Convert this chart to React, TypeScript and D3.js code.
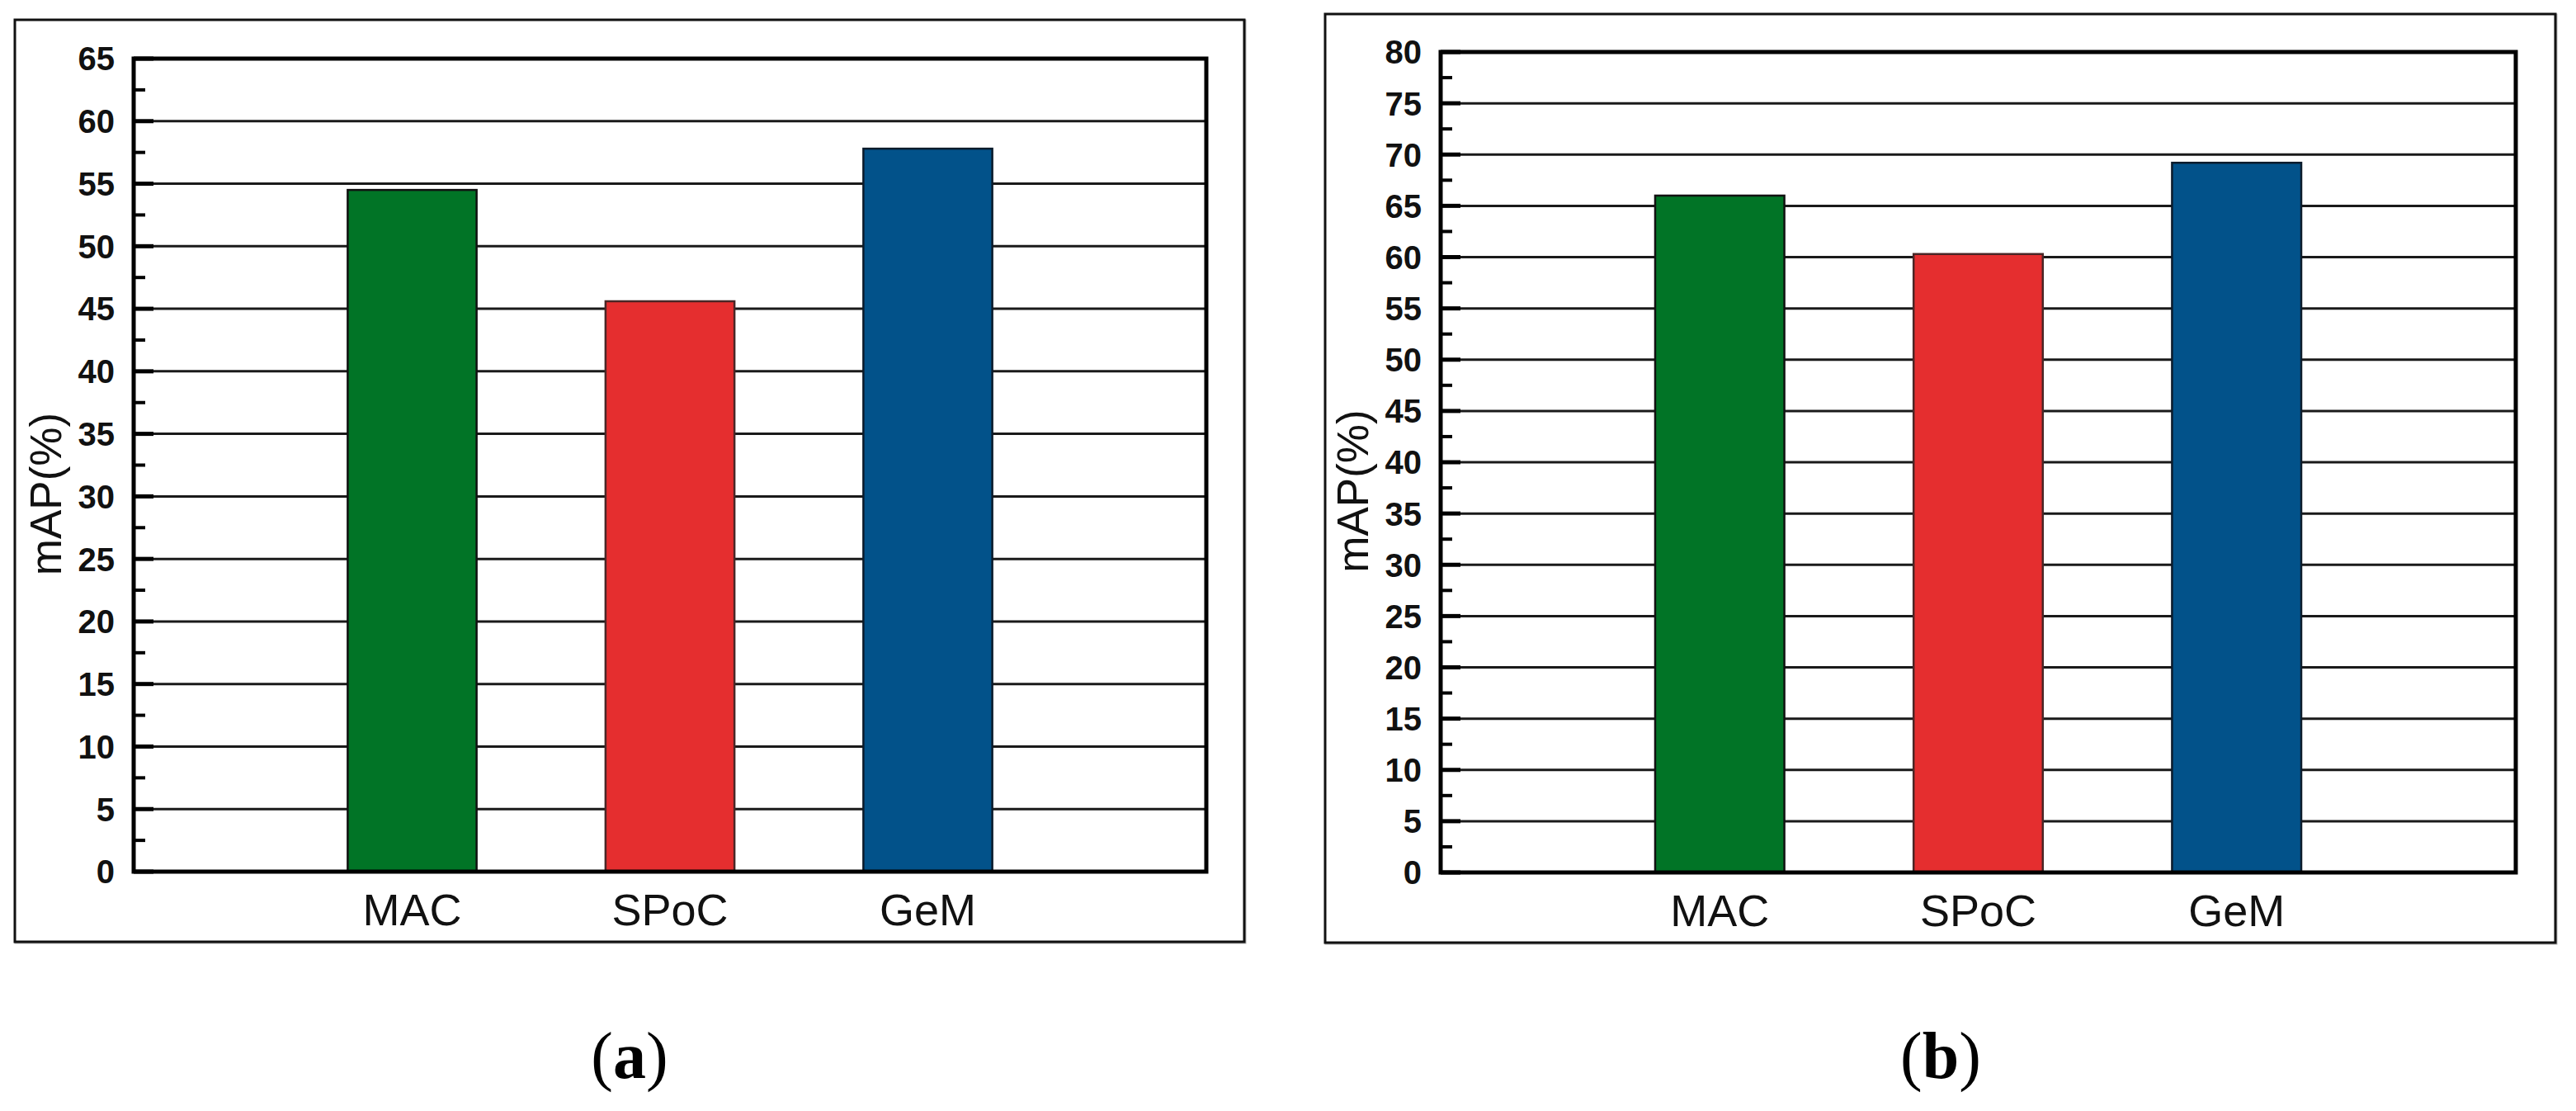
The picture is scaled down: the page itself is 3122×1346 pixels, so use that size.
import React, { useEffect, useRef } from 'react';
import * as d3 from 'd3';

// categories and values
const categories = ['MAC', 'SPoC', 'GeM'];
const barColors = ['#017426', '#e52e2f', '#02528a'];
const barStrokes = ['#111111', '#4a2626', '#0b1b2b'];
const valuesA = [54.5, 45.6, 57.8];
const valuesB = [66.0, 60.3, 69.2];
const ticksA = [0, 5, 10, 15, 20, 25, 30, 35, 40, 45, 50, 55, 60, 65];
const ticksB = [0, 5, 10, 15, 20, 25, 30, 35, 40, 45, 50, 55, 60, 65, 70, 75, 80];
const yLabel = 'mAP(%)';

const WIDTH = 3122;
const HEIGHT = 1346;

interface PanelOpts {
  values: number[];
  ticks: number[];
  caption: string;
  frame: { x0: number; y0: number; x1: number; y1: number };
  plot: { x0: number; y0: number; x1: number; y1: number };
  captionX: number;
}

function drawPanel(svg: d3.Selection<SVGSVGElement, unknown, null, undefined>, o: PanelOpts) {
  const g = svg.append('g');
  const { plot, frame } = o;
  const yMax = o.ticks[o.ticks.length - 1];

  const x = d3.scaleBand()
    .domain(categories)
    .range([plot.x0, plot.x1])
    .paddingInner(0.5)
    .paddingOuter(0.83);

  const y = d3.scaleLinear()
    .domain([0, yMax])
    .range([plot.y1, plot.y0]);

  // outer frame with a faint shadow
  g.append('rect')
    .attr('x', frame.x0 + 1).attr('y', frame.y0 + 1)
    .attr('width', frame.x1 - frame.x0).attr('height', frame.y1 - frame.y0)
    .attr('fill', 'none').attr('stroke', '#b0b0b0').attr('stroke-width', 3);
  g.append('rect')
    .attr('x', frame.x0).attr('y', frame.y0)
    .attr('width', frame.x1 - frame.x0).attr('height', frame.y1 - frame.y0)
    .attr('fill', '#fff').attr('stroke', '#111').attr('stroke-width', 3);

  // grid lines
  g.append('g')
    .selectAll('line')
    .data(o.ticks.filter(t => t > 0 && t < yMax))
    .enter().append('line')
    .attr('x1', plot.x0).attr('x2', plot.x1)
    .attr('y1', d => y(d)).attr('y2', d => y(d))
    .attr('stroke', '#1a1a1a').attr('stroke-width', 3);

  // bars
  g.append('g')
    .selectAll('rect')
    .data(o.values)
    .enter().append('rect')
    .attr('x', (d, i) => x(categories[i]) || 0)
    .attr('y', d => y(d))
    .attr('width', x.bandwidth())
    .attr('height', d => y(0) - y(d))
    .attr('fill', (d, i) => barColors[i])
    .attr('stroke', (d, i) => barStrokes[i])
    .attr('stroke-width', 2.5);

  // plot box
  g.append('rect')
    .attr('x', plot.x0).attr('y', plot.y0)
    .attr('width', plot.x1 - plot.x0).attr('height', plot.y1 - plot.y0)
    .attr('fill', 'none').attr('stroke', '#000').attr('stroke-width', 5);

  // inward ticks, major and minor
  const minor = o.ticks.slice(0, -1).map(t => t + 2.5);
  g.append('g')
    .selectAll('line')
    .data(o.ticks)
    .enter().append('line')
    .attr('x1', plot.x0).attr('x2', plot.x0 + 24)
    .attr('y1', d => y(d)).attr('y2', d => y(d))
    .attr('stroke', '#000').attr('stroke-width', 5);
  g.append('g')
    .selectAll('line')
    .data(minor)
    .enter().append('line')
    .attr('x1', plot.x0).attr('x2', plot.x0 + 14)
    .attr('y1', d => y(d)).attr('y2', d => y(d))
    .attr('stroke', '#000').attr('stroke-width', 4);

  // tick labels
  g.append('g')
    .selectAll('text')
    .data(o.ticks)
    .enter().append('text')
    .attr('x', plot.x0 - 23)
    .attr('y', d => y(d))
    .attr('dy', '0.36em')
    .attr('text-anchor', 'end')
    .style('font-family', '"Liberation Sans", Arial, sans-serif')
    .style('font-weight', 'bold')
    .style('font-size', '40px')
    .style('fill', '#111')
    .text(d => String(d));

  // category labels
  g.append('g')
    .selectAll('text')
    .data(categories)
    .enter().append('text')
    .attr('x', d => (x(d) || 0) + x.bandwidth() / 2)
    .attr('y', plot.y1 + 65)
    .attr('text-anchor', 'middle')
    .style('font-family', '"Liberation Sans", Arial, sans-serif')
    .style('font-size', '54px')
    .style('fill', '#111')
    .text(d => d);

  // y axis title
  g.append('text')
    .attr('transform', `translate(${plot.x0 - 88}, ${(plot.y0 + plot.y1) / 2 + 35}) rotate(-90)`)
    .attr('text-anchor', 'middle')
    .style('font-family', '"Liberation Sans", Arial, sans-serif')
    .style('font-size', '53px')
    .style('fill', '#111')
    .text(yLabel);

  // sub-figure caption
  g.append('text')
    .attr('x', o.captionX)
    .attr('y', 1306)
    .attr('text-anchor', 'middle')
    .style('font-family', '"Liberation Serif", "Times New Roman", serif')
    .style('font-size', '80px')
    .style('fill', '#000')
    .html(`(<tspan font-weight="bold">${o.caption}</tspan>)`);
}

export default function App() {
  const svgRef = useRef<SVGSVGElement>(null);

  useEffect(() => {
    if (!svgRef.current) return;
    const svg = d3.select(svgRef.current);
    svg.selectAll('*').remove();

    drawPanel(svg, {
      values: valuesA,
      ticks: ticksA,
      caption: 'a',
      frame: { x0: 18, y0: 24, x1: 1508, y1: 1141 },
      plot: { x0: 162, y0: 71, x1: 1462, y1: 1056 },
      captionX: 763,
    });

    drawPanel(svg, {
      values: valuesB,
      ticks: ticksB,
      caption: 'b',
      frame: { x0: 1606, y0: 17, x1: 3097, y1: 1142 },
      plot: { x0: 1746, y0: 63, x1: 3049, y1: 1057 },
      captionX: 2352,
    });
  }, []);

  return (
    <div style={{ position: 'absolute', left: 0, top: 0 }}>
      <svg
        ref={svgRef}
        width={WIDTH}
        height={HEIGHT}
        viewBox={`0 0 ${WIDTH} ${HEIGHT}`}
        style={{ display: 'block', background: '#fff' }}
      />
    </div>
  );
}
